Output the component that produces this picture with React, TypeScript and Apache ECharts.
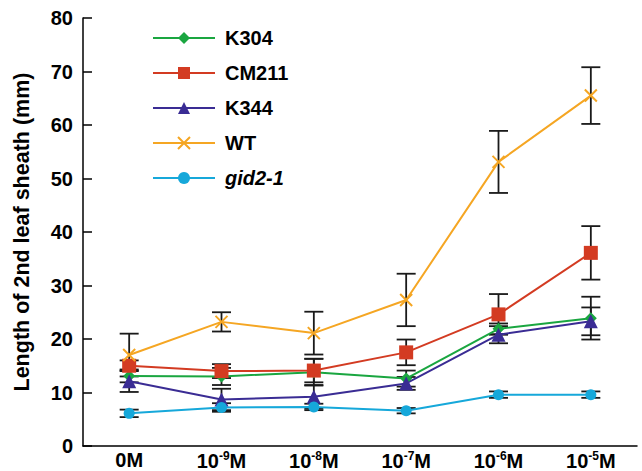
import React, { useEffect, useRef } from "react";
import * as echarts from "echarts";

const categories = ["0", "-9", "-8", "-7", "-6", "-5"];
const yTicks = [0, 10, 20, 30, 40, 50, 60, 70, 80];

const seriesNames = ["K304", "CM211", "K344", "WT", "gid2-1"];
const K304 = [13.1, 13.0, 13.8, 12.6, 21.9, 23.9];
const CM211 = [15.0, 14.0, 14.1, 17.5, 24.6, 36.1];
const K344 = [12.1, 8.7, 9.2, 11.7, 20.8, 23.3];
const WT = [17.0, 23.2, 21.1, 27.3, 53.1, 65.5];
const GID = [6.1, 7.2, 7.3, 6.6, 9.6, 9.6];

const K304_err = [1.2, 1.6, 2.5, 1.5, 1.0, 4.0];
const CM211_err = [1.0, 1.3, 2.2, 2.4, 3.8, 5.0];
const K344_err = [2.0, 2.0, 2.2, 1.2, 1.6, 2.6];
const WT_err = [4.0, 1.8, 4.0, 4.9, 5.8, 5.3];
const GID_err = [0.7, 0.8, 0.6, 0.5, 0.6, 0.6];

const FONT = "'Liberation Sans', Arial, Helvetica, sans-serif";

export default function App() {
  const ref = useRef<HTMLDivElement>(null);
  useEffect(() => {
    if (!ref.current) return;
    const chart = echarts.init(ref.current, null, { renderer: "svg" });
    const values = [K304, CM211, K344, WT, GID];
    const errs = [K304_err, CM211_err, K344_err, WT_err, GID_err];
    const colors = ["#1aa640", "#d33b22", "#3a2c94", "#f5a623", "#16a8da"];
    const symbols = ["diamond", "rect", "triangle", "path://M0,0L10,10M10,0L0,10", "circle"];
    const sizes = [12, 14, 14, 12, 11];

    const errData: number[][] = [];
    values.forEach((vals, s) => {
      vals.forEach((v, i) => errData.push([i, v, errs[s][i]]));
    });

    const lineSeries = seriesNames.map((name, s) => ({
      type: "line",
      name,
      data: values[s],
      symbol: symbols[s],
      symbolSize: sizes[s],
      z: 3,
      lineStyle: { color: colors[s], width: 2 },
      itemStyle:
        s === 3
          ? { color: colors[s], borderColor: colors[s], borderWidth: 2 }
          : { color: colors[s] },
    }));

    chart.setOption({
      animation: false,
      grid: { left: 83, right: 5, top: 18, bottom: 25, containLabel: false },
      legend: {
        orient: "vertical",
        left: 147,
        top: 23,
        itemWidth: 62,
        itemHeight: 15,
        itemGap: 15,
        data: seriesNames,
        formatter: (name: string) => (name === "gid2-1" ? `{i|${name}}` : `{b|${name}}`),
        textStyle: {
          fontFamily: FONT,
          fontSize: 20,
          fontWeight: "bold",
          color: "#000",
          rich: {
            b: { fontFamily: FONT, fontSize: 20, fontWeight: "bold", color: "#000", padding: [0, 0, 0, 5] },
            i: { fontFamily: FONT, fontSize: 20, fontWeight: "bold", fontStyle: "italic", color: "#000", padding: [0, 0, 0, 5] },
          },
        },
      },
      xAxis: {
        type: "category",
        data: categories,
        boundaryGap: true,
        axisLine: { lineStyle: { color: "#000", width: 1.5 } },
        axisTick: { inside: true, length: 9, lineStyle: { color: "#000", width: 1.5 } },
        axisLabel: {
          interval: 0,
          margin: 4,
          formatter: (v: string) => (v === "0" ? "{b|0M}" : `{b|10}{s|${v}}{b|M}`),
          rich: {
            b: { fontFamily: FONT, fontSize: 20, fontWeight: "bold", color: "#000", lineHeight: 20 },
            s: { fontFamily: FONT, fontSize: 12, fontWeight: "bold", color: "#000", padding: [0, 0, 9, 0] },
          },
        },
      },
      yAxis: {
        type: "value",
        min: yTicks[0],
        max: yTicks[yTicks.length - 1],
        interval: 10,
        name: "Length of 2nd leaf sheath (mm)",
        nameLocation: "middle",
        nameGap: 50,
        nameTextStyle: { fontFamily: FONT, fontSize: 21.5, fontWeight: "bold", color: "#000" },
        splitLine: { show: false },
        axisLine: { show: true, lineStyle: { color: "#000", width: 1.5 } },
        axisTick: { show: true, inside: true, length: 9, lineStyle: { color: "#000", width: 1.5 } },
        axisLabel: { margin: 10, fontFamily: FONT, fontSize: 20, fontWeight: "bold", color: "#000" },
      },
      series: [
        {
          type: "custom",
          name: "err",
          z: 1,
          silent: true,
          data: errData,
          renderItem: (params: any, api: any) => {
            const x = api.value(0);
            const y = api.value(1);
            const e = api.value(2);
            const top = api.coord([x, y + e]);
            const bot = api.coord([x, y - e]);
            const hw = 9.5;
            const style = { stroke: "#1a1a1a", lineWidth: 1.8 };
            return {
              type: "group",
              children: [
                { type: "line", shape: { x1: top[0], y1: top[1], x2: bot[0], y2: bot[1] }, style },
                { type: "line", shape: { x1: top[0] - hw, y1: top[1], x2: top[0] + hw, y2: top[1] }, style },
                { type: "line", shape: { x1: bot[0] - hw, y1: bot[1], x2: bot[0] + hw, y2: bot[1] }, style },
              ],
            };
          },
        },
        ...lineSeries,
      ],
    });
    return () => chart.dispose();
  }, []);
  return (
    <div
      ref={ref}
      style={{ position: "fixed", left: 0, top: 0, width: 642, height: 471, background: "#fff" }}
    />
  );
}
